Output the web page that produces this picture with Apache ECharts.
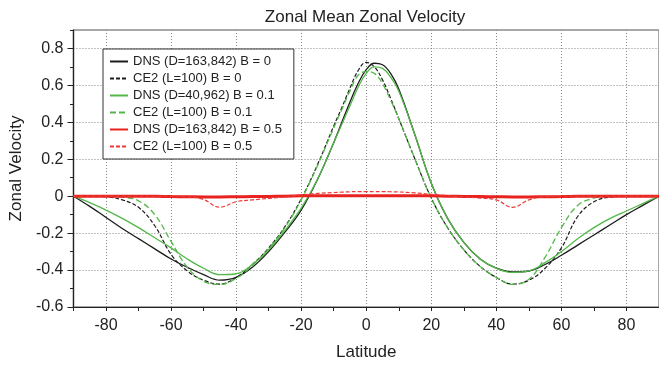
<!DOCTYPE html>
<html>
<head>
<meta charset="utf-8">
<script src="https://cdn.jsdelivr.net/npm/echarts@6.0.0/dist/echarts.min.js"></script>
<style>
  html, body { margin: 0; padding: 0; background: #fff; }
  #chart { width: 659px; height: 366px; }
</style>
</head>
<body>
<div id="chart"></div>
<script>
// latitude samples shared by all curves
var lats = [-90, -85, -80, -75, -70, -65, -60, -55, -50, -45, -40, -35, -30, -25, -20, -15, -10, -7.5, -5, -2.5,
    0, 2.5, 5, 7.5, 10, 15, 20, 25, 30, 35, 40, 45, 50, 55, 60, 65, 70, 75, 80, 85, 90];

var dnsB0 = [0, -0.055, -0.115, -0.175, -0.23, -0.285, -0.34, -0.385, -0.425, -0.455, -0.44, -0.385, -0.3, -0.195, -0.075, 0.09, 0.29, 0.4, 0.51, 0.61,
    0.685, 0.72, 0.712, 0.665, 0.58, 0.33, 0.07, -0.12, -0.25, -0.34, -0.39, -0.41, -0.405, -0.37, -0.32, -0.265, -0.21, -0.155, -0.1, -0.05, 0];
var ce2B0 = [0, 0, -0.003, -0.02, -0.06, -0.16, -0.315, -0.405, -0.455, -0.476, -0.44, -0.37, -0.28, -0.165, -0.015, 0.17, 0.38, 0.48, 0.585, 0.68,
    0.725, 0.7, 0.63, 0.53, 0.42, 0.2, -0.01, -0.17, -0.29, -0.38, -0.44, -0.476, -0.455, -0.39, -0.28, -0.11, -0.03, -0.005, 0, 0, 0];
var dnsB01 = [0, -0.035, -0.075, -0.12, -0.17, -0.225, -0.28, -0.34, -0.39, -0.425, -0.42, -0.37, -0.29, -0.185, -0.065, 0.09, 0.29, 0.39, 0.49, 0.59,
    0.665, 0.7, 0.692, 0.645, 0.57, 0.33, 0.07, -0.12, -0.25, -0.34, -0.39, -0.413, -0.405, -0.36, -0.3, -0.23, -0.17, -0.12, -0.08, -0.04, 0];
var ce2B01 = [0, 0, 0, -0.005, -0.025, -0.1, -0.245, -0.385, -0.46, -0.478, -0.445, -0.375, -0.285, -0.17, -0.02, 0.165, 0.37, 0.47, 0.57, 0.655,
    0.675, 0.665, 0.61, 0.52, 0.42, 0.2, -0.01, -0.17, -0.29, -0.38, -0.44, -0.478, -0.45, -0.33, -0.17, -0.05, -0.01, 0, 0, 0, 0];
var dnsB05 = [0, 0, 0, 0, 0, 0, -0.002, -0.003, -0.004, -0.004, -0.003, -0.002, -0.001, 0, 0.002, 0.003, 0.003, 0.003, 0.003, 0.003,
    0.003, 0.003, 0.003, 0.003, 0.003, 0.003, 0.002, 0, -0.001, -0.002, -0.003, -0.004, -0.004, -0.003, -0.002, 0, 0, 0, 0, 0, 0];
var ce2B05 = [0, 0, 0, 0, 0, 0, 0, -0.002, -0.018, -0.06, -0.03, -0.02, -0.012, -0.004, 0.007, 0.015, 0.02, 0.022, 0.024, 0.025,
    0.025, 0.025, 0.025, 0.024, 0.023, 0.018, 0.01, 0.003, -0.004, -0.01, -0.02, -0.06, -0.02, -0.002, 0, 0, 0, 0, 0, 0, 0];

var latLabels = [-80, -60, -40, -20, 0, 20, 40, 60, 80];
var velLabels = [-0.6, -0.4, -0.2, 0, 0.2, 0.4, 0.6, 0.8];

var font = 'Liberation Sans, Arial, sans-serif';

function pairs(vals) {
    return lats.map(function (x, i) { return [x, vals[i]]; });
}

function line(name, vals, color, width, type) {
    return {
        name: name,
        type: 'line',
        data: pairs(vals),
        symbol: 'none',
        smooth: 0.4,
        lineStyle: {color: color, width: width, type: type},
        itemStyle: {color: color},
        emphasis: {disabled: true}
    };
}

var myChart = echarts.init(document.getElementById('chart'));
var option = {
    animation: false,
    backgroundColor: '#fff',
    title: {
        text: 'Zonal Mean Zonal Velocity',
        left: 360,
        top: 4,
        textAlign: 'center',
        textStyle: {fontFamily: font, fontSize: 17, fontWeight: 'normal', color: '#222'}
    },
    legend: {
        orient: 'vertical',
        left: 103,
        top: 49,
        padding: [6, 12, 6, 6],
        itemWidth: 18,
        itemHeight: 14,
        itemGap: 4,
        backgroundColor: '#fff',
        borderColor: '#333',
        borderWidth: 1,
        itemStyle: {opacity: 0},
        textStyle: {fontFamily: font, fontSize: 13, color: '#222'},
        data: ['DNS (D=163,842) B = 0', 'CE2 (L=100) B = 0', 'DNS (D=40,962) B = 0.1',
            'CE2 (L=100) B = 0.1', 'DNS (D=163,842) B = 0.5', 'CE2 (L=100) B = 0.5']
    },
    grid: {left: 72, right: 0, top: 30, bottom: 55, show: true, borderColor: '#8c8c8c', borderWidth: 1.5},
    xAxis: [
        {
            type: 'value', min: -90, max: 90, interval: 10, position: 'bottom',
            name: 'Latitude', nameLocation: 'middle', nameGap: 37,
            nameTextStyle: {fontFamily: font, fontSize: 17, color: '#222'},
            axisLine: {onZero: false, lineStyle: {color: '#222', width: 1.2}},
            axisTick: {length: 4, customValues: latLabels, lineStyle: {color: '#222'}},
            axisLabel: {customValues: latLabels, margin: 11, fontFamily: font, fontSize: 16, color: '#222'},
            splitLine: {show: true, lineStyle: {color: '#888', type: [1, 2], width: 1}}
        },
        {
            type: 'value', min: -90, max: 90, interval: 10, position: 'bottom',
            axisLine: {show: false, onZero: false},
            axisTick: {length: 4, lineStyle: {color: '#222'}},
            axisLabel: {show: false},
            splitLine: {show: false}
        }
    ],
    yAxis: [
        {
            type: 'value', min: -0.6, max: 0.9, interval: 0.1, position: 'left',
            name: 'Zonal Velocity', nameLocation: 'middle', nameGap: 45,
            nameTextStyle: {fontFamily: font, fontSize: 17, color: '#222'},
            axisLine: {show: true, onZero: false, lineStyle: {color: '#222', width: 1.2}},
            axisTick: {show: true, length: 6, customValues: velLabels, lineStyle: {color: '#222'}},
            axisLabel: {customValues: velLabels, margin: 10, fontFamily: font, fontSize: 16, color: '#222'},
            splitLine: {show: true, lineStyle: {color: '#888', type: [1, 2], width: 1}}
        },
        {
            type: 'value', min: -0.6, max: 0.9, interval: 0.1, position: 'left',
            axisLine: {show: false, onZero: false},
            axisTick: {show: true, length: 3.5, lineStyle: {color: '#222'}},
            axisLabel: {show: false},
            splitLine: {show: false}
        }
    ],
    series: [
        line('DNS (D=163,842) B = 0', dnsB0, '#1c1c1c', 1.3, 'solid'),
        line('CE2 (L=100) B = 0', ce2B0, '#1c1c1c', 1.2, [4, 2]),
        line('DNS (D=40,962) B = 0.1', dnsB01, '#52b848', 1.3, 'solid'),
        line('CE2 (L=100) B = 0.1', ce2B01, '#52b848', 1.3, [6, 3]),
        line('DNS (D=163,842) B = 0.5', dnsB05, '#e8221e', 3, 'solid'),
        line('CE2 (L=100) B = 0.5', ce2B05, '#ec3a36', 1.2, [4, 2])
    ]
};
myChart.setOption(option, true);
</script>
</body>
</html>
